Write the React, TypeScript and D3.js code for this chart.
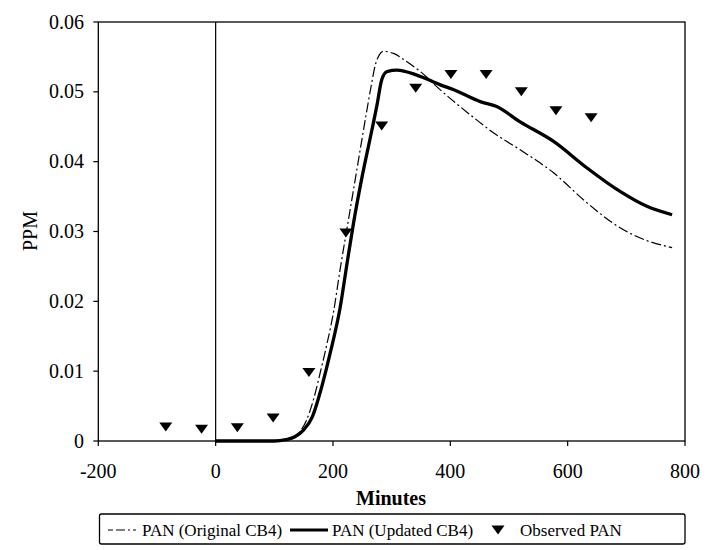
import React from "react";
import * as d3 from "d3";

// Data
const updatedMinutes = [0, 100, 120, 135, 150, 165, 180, 195, 212, 225, 235, 250, 265, 275, 283, 292, 309, 343, 383, 406, 451, 479, 519, 576, 633, 690, 735, 778];
const updatedPPM = [0, 0, 0.0002, 0.0006, 0.0016, 0.0035, 0.0075, 0.0125, 0.019, 0.026, 0.0312, 0.038, 0.044, 0.0481, 0.0517, 0.0529, 0.0531, 0.0524, 0.051, 0.0503, 0.0486, 0.0479, 0.0457, 0.0429, 0.0391, 0.0357, 0.0336, 0.0324];

const originalMinutes = [0, 100, 120, 133, 145, 155, 167, 178, 190, 201, 212, 225, 240, 255, 265, 272, 279, 286, 303, 326, 349, 380, 434, 476, 519, 576, 633, 690, 735, 778];
const originalPPM = [0, 0, 0.0002, 0.0006, 0.0015, 0.003, 0.006, 0.0097, 0.014, 0.0185, 0.0245, 0.031, 0.0385, 0.046, 0.0508, 0.0538, 0.0553, 0.0558, 0.0555, 0.0543, 0.0529, 0.0505, 0.0467, 0.044, 0.0417, 0.0384, 0.0341, 0.0305, 0.0287, 0.0277];

const observedMinutes = [-85, -24, 37, 98, 159, 222, 283, 341, 401, 461, 521, 580, 640];
const observedPPM = [0.002, 0.0017, 0.0019, 0.0033, 0.0098, 0.0298, 0.0451, 0.0505, 0.0525, 0.0525, 0.05, 0.0473, 0.0463];

const xTicks = [-200, 0, 200, 400, 600, 800];
const yTicks = [0, 0.01, 0.02, 0.03, 0.04, 0.05, 0.06];
const yTickLabels = ["0", "0.01", "0.02", "0.03", "0.04", "0.05", "0.06"];

const legendLabels = ["PAN (Original CB4)", "PAN (Updated CB4)", "Observed PAN"];

const FONT = "'Liberation Serif', 'Times New Roman', serif";

export default function App() {
  const x = d3.scaleLinear().domain([-200, 800]).range([98.3, 685]);
  const y = d3.scaleLinear().domain([0, 0.06]).range([441, 22]);

  const line = d3
    .line<[number, number]>()
    .x((d) => x(d[0]))
    .y((d) => y(d[1]))
    .curve(d3.curveMonotoneX);

  const updated = updatedMinutes.map((m, i) => [m, updatedPPM[i]] as [number, number]);
  const original = originalMinutes.map((m, i) => [m, originalPPM[i]] as [number, number]);

  const tri = (cx: number, cy: number) => {
    const w = 6.5, h = 9;
    return `M${cx - w},${cy - h / 2}L${cx + w},${cy - h / 2}L${cx},${cy + h / 2}Z`;
  };

  const [x0, x1] = x.range();
  const [yb, yt] = y.range();

  return (
    <svg
      width={722}
      height={550}
      style={{ position: "absolute", left: 0, top: 0, background: "#fff" }}
      fontFamily={FONT}
    >
      <rect x={0} y={0} width={722} height={550} fill="#fff" />
      {/* frame */}
      <rect x={x0} y={yt} width={x1 - x0} height={yb - yt} fill="none" stroke="#000" strokeWidth={1.3} />
      {/* zero vertical line */}
      <line x1={x(0)} x2={x(0)} y1={yt} y2={yb} stroke="#000" strokeWidth={1.2} />

      {/* y ticks */}
      {yTicks.map((t, i) => (
        <g key={"y" + i}>
          <line x1={x0 - 5} x2={x0} y1={y(t)} y2={y(t)} stroke="#000" strokeWidth={1.2} />
          <text x={84} y={y(t) + 6.5} textAnchor="end" fontSize={20}>
            {yTickLabels[i]}
          </text>
        </g>
      ))}

      {/* x ticks */}
      {xTicks.map((t, i) => (
        <g key={"x" + i}>
          <line x1={x(t)} x2={x(t)} y1={yb} y2={yb + 5} stroke="#000" strokeWidth={1.2} />
          <text x={x(t)} y={478} textAnchor="middle" fontSize={20}>
            {t}
          </text>
        </g>
      ))}

      {/* axis titles */}
      <text x={391} y={505} textAnchor="middle" fontSize={20} fontWeight="bold">
        Minutes
      </text>
      <text transform="translate(37,231) rotate(-90)" textAnchor="middle" fontSize={20}>
        PPM
      </text>

      {/* curves */}
      <path d={line(original) || ""} fill="none" stroke="#000" strokeWidth={1.2} strokeDasharray="10,3,2,3" />
      <path d={line(updated) || ""} fill="none" stroke="#000" strokeWidth={3.3} strokeLinejoin="round" />

      {/* observed */}
      {observedMinutes.map((m, i) => (
        <path key={"o" + i} d={tri(x(m), y(observedPPM[i]))} fill="#000" />
      ))}

      {/* legend */}
      <rect x={99.5} y={514} width={585.5} height={30} rx={2} fill="#fff" stroke="#000" strokeWidth={1.3} />
      <line x1={108} x2={136} y1={530} y2={530} stroke="#000" strokeWidth={1.2} strokeDasharray="5,3,9,3,2,3" />
      <text x={142} y={536} fontSize={17}>
        {legendLabels[0]}
      </text>
      <line x1={290} x2={328} y1={530} y2={530} stroke="#000" strokeWidth={3} />
      <text x={332} y={536} fontSize={17}>
        {legendLabels[1]}
      </text>
      <path d={tri(498, 530)} fill="#000" />
      <text x={520} y={536} fontSize={17}>
        {legendLabels[2]}
      </text>
    </svg>
  );
}
